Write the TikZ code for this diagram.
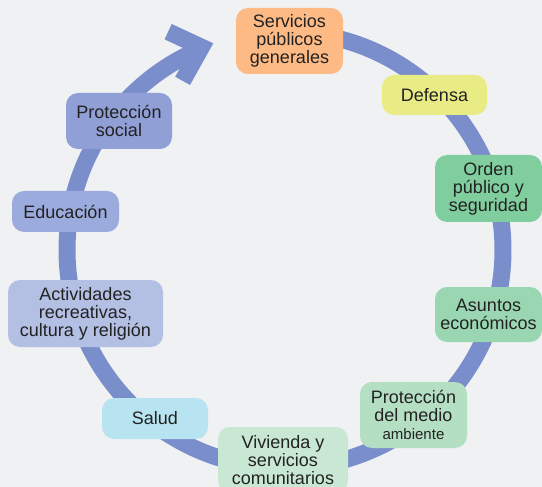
\documentclass[tikz,border=0pt]{standalone}
\usepackage{fontspec}
\setmainfont{Liberation Sans}
\definecolor{bgc}{HTML}{F0F1F3}
\definecolor{ringc}{HTML}{7A8ECB}
\definecolor{txtc}{HTML}{222222}
\definecolor{cserv}{HTML}{FDBA85}
\definecolor{cdef}{HTML}{E9EC85}
\definecolor{corden}{HTML}{80CD9D}
\definecolor{casun}{HTML}{9AD6B1}
\definecolor{cmedio}{HTML}{B4DFC3}
\definecolor{cviv}{HTML}{C9E8D3}
\definecolor{csalud}{HTML}{B8E4F1}
\definecolor{cact}{HTML}{B4BFE4}
\definecolor{cedu}{HTML}{9CABDD}
\definecolor{cpsoc}{HTML}{909FD6}
\tikzset{
  box/.style={rounded corners=12pt, inner sep=0pt, align=center, text=txtc,
    font=\fontsize{18}{18}\selectfont, minimum width=107pt, minimum height=#1},
  box/.default=66pt
}
\begin{document}
\begin{tikzpicture}[x=1pt,y=-1pt]
\fill[bgc] (0,0) rectangle (542,487);
\useasboundingbox (0,0) rectangle (542,487);
\coordinate (c) at (285,250);
% ring
\draw[ringc, line width=17pt]
  ([shift={(-95:218)}]c) arc[start angle=-95, end angle=246, radius=218];
% chevron arrow head
\coordinate (tip) at (213.3,43.3);
\coordinate (a1) at (171.7,24);
\coordinate (a1i) at (164.6,39.4);
\coordinate (ci) at (189.6,51);
\coordinate (a2i) at (175.2,76.7);
\coordinate (a2) at (190,85);
\fill[ringc] (tip) -- (a1) -- (a1i) -- (ci) -- (a2i) -- (a2) -- cycle;
% nodes
\node[box, fill=cserv] (serv) at (289.5,41) {Servicios\\públicos\\generales};
\node[box=40pt, fill=cdef, minimum width=105pt] (def) at (434.5,95) {Defensa};
\node[box=67pt, fill=corden] (orden) at (488.5,188.5) {Orden\\público y\\seguridad};
\node[box=55pt, fill=casun] (asun) at (488.5,314.5) {Asuntos\\económicos};
\node[box, fill=cmedio] (medio) at (413.5,415) {Protección\\del medio\\{\fontsize{15}{18}\selectfont ambiente}};
\node[box, fill=cviv, minimum width=130pt] (viv) at (283,460) {Vivienda y\\servicios\\comunitarios};
\node[box=41pt, fill=csalud, minimum width=106pt] (salud) at (155,418.5) {Salud};
\node[box=67pt, fill=cact, minimum width=155pt] (act) at (85.5,313.5) {Actividades\\recreativas,\\cultura y religión};
\node[box=41pt, fill=cedu] (edu) at (65.5,211.5) {Educación};
\node[box=56pt, fill=cpsoc, minimum width=106pt] (psoc) at (119,121) {Protección\\social};
\end{tikzpicture}
\end{document}
